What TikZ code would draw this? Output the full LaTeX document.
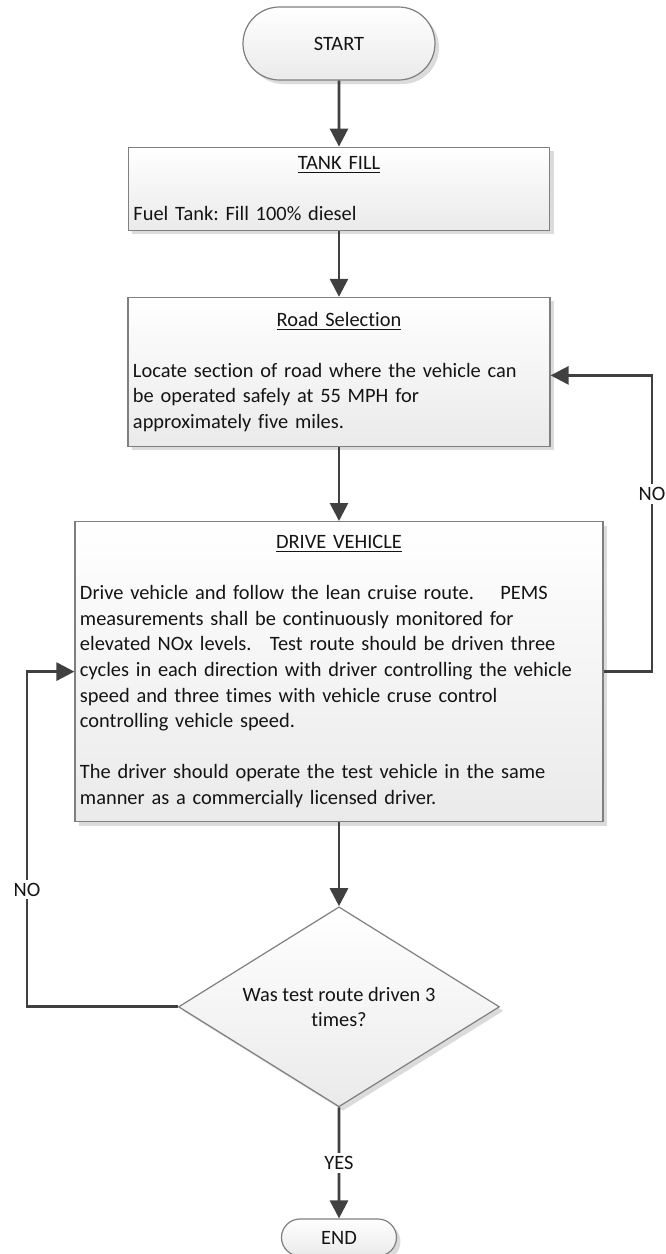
\documentclass[tikz,border=0pt]{standalone}
\usepackage{fontspec}
\setmainfont{Carlito}[Ligatures=NoCommon]
\usepackage{tikz}
\usetikzlibrary{arrows.meta,positioning,shapes.geometric,shapes.misc,shadows}
\usepackage{xcolor}
\definecolor{flowink}{HTML}{404040}
\definecolor{flowedge}{HTML}{7F7F7F}
\definecolor{flowtext}{HTML}{141414}
\definecolor{flowshade}{HTML}{EAEAEA}
\newcommand{\flowfont}{\fontsize{10.2pt}{12.8pt}\selectfont\frenchspacing}
\newcommand{\boxtitle}[1]{\makebox[\linewidth]{\underline{#1}}}
\tikzset{
  stepshade/.style={
    top color=white,
    bottom color=flowshade,
    draw=flowedge,
    line width=0.6pt,
    drop shadow={shadow xshift=2pt,shadow yshift=-2pt,fill=black!14,opacity=1},
    text=flowtext,
    font=\flowfont
  },
  procbox/.style={
    stepshade,
    rectangle,
    align=left,
    inner xsep=2.5pt,
    inner ysep=0pt
  },
  termbox/.style={
    stepshade,
    rounded rectangle,
    inner sep=0pt
  },
  decisionbox/.style={
    stepshade,
    diamond,
    aspect=1.6,
    align=center,
    inner sep=0pt,
    minimum width=160.5pt,
    minimum height=100pt
  },
  arrow/.style={
    -{Triangle[length=9pt,width=9pt]},
    line width=1.4pt,
    draw=flowink
  },
  looplabel/.style={
    fill=white,
    inner sep=1.5pt,
    font=\flowfont,
    text=flowtext
  }
}

\begin{document}
\begin{tikzpicture}
\useasboundingbox (-169.5pt,-605.25pt) rectangle (163pt,21.75pt);
\node[termbox, minimum width=96pt, minimum height=36.5pt] (start) {START};
\node[procbox, text width=205.5pt, minimum height=41.5pt, below=33pt of start] (tank)
  {\boxtitle{TANK FILL}\\[12.8pt]
   Fuel Tank: Fill 100\% diesel};
\node[procbox, text width=206pt, minimum height=74.5pt, below=33pt of tank] (road)
  {\boxtitle{Road Selection}\\[12.8pt]
   Locate section of road where the vehicle can\\
   be operated safely at 55 MPH for\\
   approximately five miles.};
\node[procbox, text width=259pt, minimum height=150pt, below=37pt of road] (drive)
  {\boxtitle{DRIVE VEHICLE}\\[12.8pt]
   Drive vehicle and follow the lean cruise route.\hspace{1.3em}PEMS\\
   measurements shall be continuously monitored for\\
   elevated NOx levels.\hspace{0.9em}Test route should be driven three\\
   cycles in each direction with driver controlling the vehicle\\
   speed and three times with vehicle cruse control\\
   controlling vehicle speed.\\[12.8pt]
   The driver should operate the test vehicle in the same\\
   manner as a commercially licensed driver.};
\node[decisionbox, below=42pt of drive] (check) {Was test route driven 3\\times?};
\node[termbox, minimum width=57.5pt, minimum height=18.5pt, below=55.5pt of check] (finish) {END};

% loop corners
\coordinate (rloop) at (156.5pt,0);
\coordinate (lloop) at (-156pt,0);

\draw[arrow] (start) -- (tank);
\draw[arrow] (tank) -- (road);
\draw[arrow] (road) -- (drive);
\draw[arrow] (drive) -- (check);
\draw[arrow] (check) -- node[looplabel] {YES} (finish);
\draw[arrow] (drive.east) -- (drive.east -| rloop)
  -- node[looplabel, pos=0.6] {NO} ([yshift=-1.75pt]road.east -| rloop)
  -- ([yshift=-1.75pt]road.east);
\draw[arrow] (check.west) -- (check.west -| lloop)
  -- node[looplabel, pos=0.35] {NO} (drive.west -| lloop)
  -- (drive.west);
\end{tikzpicture}
\end{document}
